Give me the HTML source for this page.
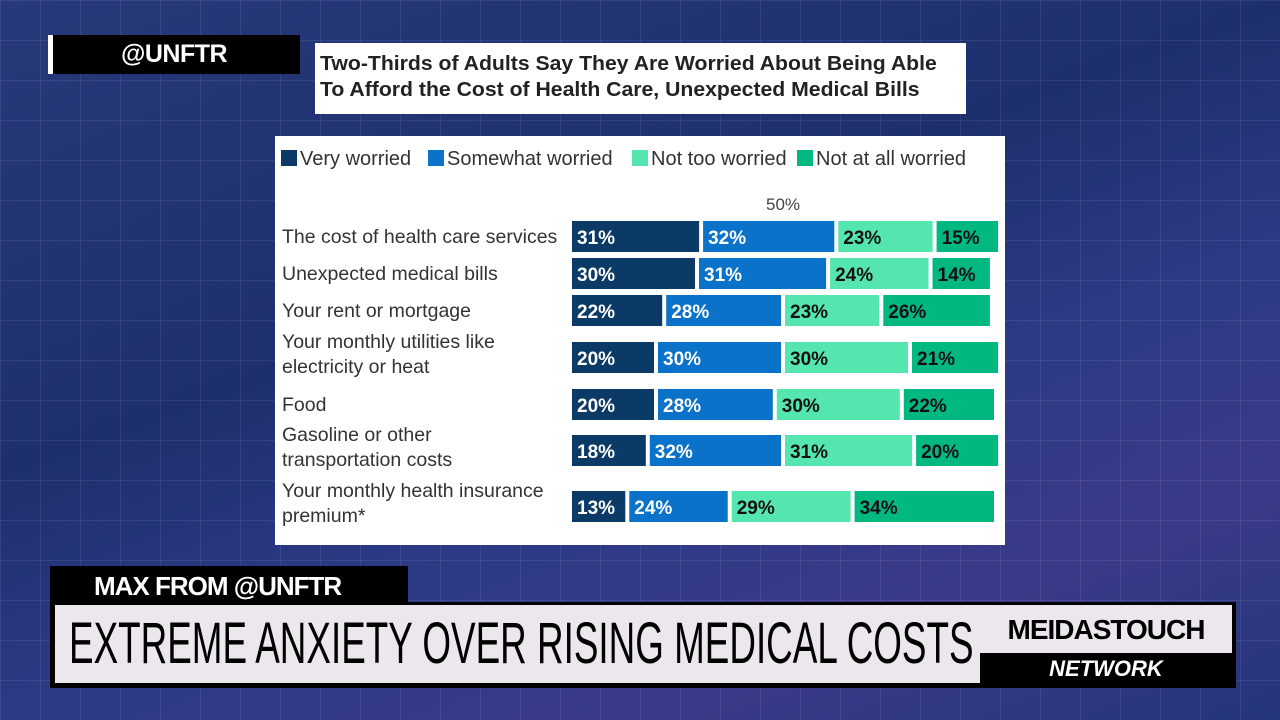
<!DOCTYPE html>
<html><head><meta charset="utf-8"><style>
body{margin:0;width:1280px;height:720px;overflow:hidden;font-family:"Liberation Sans",sans-serif;}
#bg{position:absolute;left:0;top:0;width:1280px;height:720px;background:linear-gradient(160deg,#27397a 0%,#1e2f6e 40%,#2c3a86 60%,#3a3a8a 80%,#24357a 100%);}
.grid{position:absolute;left:0;top:0;width:1280px;height:720px;background-image:linear-gradient(rgba(255,255,255,.08) 1px,transparent 1px),linear-gradient(90deg,rgba(255,255,255,.08) 1px,transparent 1px);background-size:40px 40px;}
.abs{position:absolute;}
</style></head><body>
<div id="bg"><div class="grid"></div></div>
<div class="abs" style="left:48px;top:35px;width:252px;height:39px;background:#000;border-left:5px solid #fff;box-sizing:border-box;color:#fff;font-weight:bold;font-size:25px;line-height:39px;padding-left:68px;letter-spacing:-0.5px;">@UNFTR</div>
<div class="abs" style="left:315px;top:43px;width:651px;height:71px;background:#fff;color:#222;font-weight:bold;font-size:20px;line-height:26px;padding:8px 0 0 5px;box-sizing:border-box;white-space:nowrap;"><span style="display:inline-block;transform:scaleX(1.06);transform-origin:left;">Two-Thirds of Adults Say They Are Worried About Being Able<br>To Afford the Cost of Health Care, Unexpected Medical Bills</span></div>
<div class="abs" style="left:275px;top:136px;width:730px;height:409px;background:#fff;"></div>
<svg class="abs" id="chart" style="left:0;top:0" width="1280" height="720"></svg>
<div class="abs" style="left:50px;top:566px;width:358px;height:40px;background:#000;color:#fff;font-weight:bold;font-size:26px;line-height:40px;padding-left:44px;box-sizing:border-box;letter-spacing:-1px;">MAX FROM @UNFTR</div>
<div class="abs" style="left:50px;top:602px;width:1186px;height:86px;background:#000;"></div>
<div class="abs" style="left:55px;top:605px;width:925px;height:78px;background:#ebe7ec;color:#000;font-size:58px;line-height:78px;padding-left:14px;box-sizing:border-box;white-space:nowrap;overflow:hidden;"><span style="display:inline-block;transform:scaleX(0.635);transform-origin:left;">EXTREME ANXIETY OVER RISING MEDICAL COSTS</span></div>
<div class="abs" style="left:980px;top:605px;width:252px;height:48px;background:#ebe7ec;color:#000;font-weight:bold;font-size:28px;line-height:50px;text-align:center;letter-spacing:-1px;">MEIDASTOUCH</div>
<div class="abs" style="left:980px;top:653px;width:252px;height:32px;color:#fff;font-weight:bold;font-style:italic;font-size:22px;line-height:32px;text-align:center;">NETWORK</div>
<script>
const categories=[["The cost of health care services"],["Unexpected medical bills"],["Your rent or mortgage"],["Your monthly utilities like","electricity or heat"],["Food"],["Gasoline or other","transportation costs"],["Your monthly health insurance","premium*"]];
const veryWorried=[31,30,22,20,20,18,13];
const somewhatWorried=[32,31,28,30,28,32,24];
const notTooWorried=[23,24,23,30,30,31,29];
const notAtAllWorried=[15,14,26,21,22,20,34];
const seriesNames=["Very worried","Somewhat worried","Not too worried","Not at all worried"];
const colors=["#0b3a66","#0a72c9","#55e6b0","#00b880"];
const textColors=["#fff","#fff","#111","#111"];
const rowTops=[221,258,295,342,389,435,491];
const legendX=[281,428,632,797];
const svg=document.getElementById('chart');const NS="http://www.w3.org/2000/svg";
const x0=572,pxPer=4.1,gap=4,barH=31;
function xs(v){return v*pxPer;}
function mk(t,a){const e=document.createElementNS(NS,t);for(const k in a)e.setAttribute(k,a[k]);svg.appendChild(e);return e;}
seriesNames.forEach((n,i)=>{
 const lx=legendX[i];
 const r=mk('rect',{x:lx,y:150,width:16,height:16,fill:colors[i]});
 
 
 const t=mk('text',{x:lx+19,y:165,'font-size':20,fill:'#333','font-family':'Liberation Sans, sans-serif'});t.textContent=n;
 
 
});
const t50=mk('text',{x:x0+xs(50)+gap*1.5,y:210,'font-size':17,fill:'#444','text-anchor':'middle','font-family':'Liberation Sans, sans-serif'});t50.textContent="50%";


const series=[veryWorried,somewhatWorried,notTooWorried,notAtAllWorried];
categories.forEach((c,ri)=>{
 const y=rowTops[ri];
 c.forEach((ln,li)=>{
  const ty=c.length==1?y+22:y+6+li*25;
  const t=mk('text',{x:282,y:ty,'font-size':19.5,fill:'#333','font-family':'Liberation Sans, sans-serif'});t.textContent=ln;
  
  
 });
 let cum=0;
 series.forEach((s,si)=>{
  const x=x0+xs(cum)+si*gap;const w=xs(s[ri]);
  const r=mk('rect',{x:x,y:y,width:w,height:barH,fill:colors[si]});
  
  
  const t=mk('text',{x:x+5,y:y+23,'font-size':19,'font-weight':'bold',fill:textColors[si],'font-family':'Liberation Sans, sans-serif'});t.textContent=s[ri]+"%";
  
  
  cum+=s[ri];
 });
});
</script>
</body></html>
